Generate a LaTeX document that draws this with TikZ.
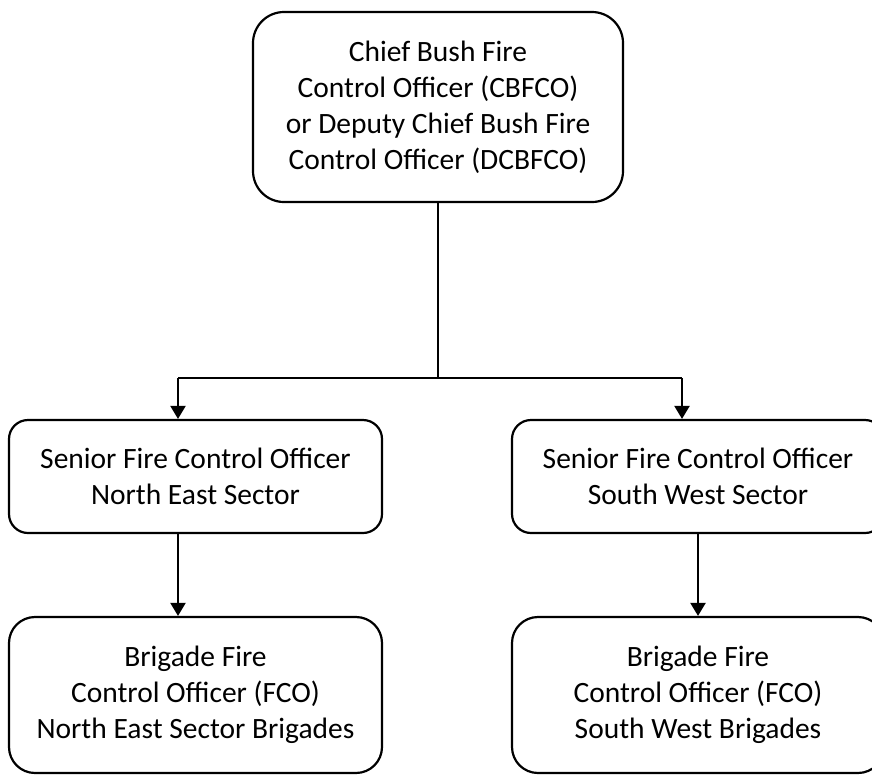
\documentclass[tikz,border=0pt]{standalone}
\usepackage{fontspec}
\setmainfont{Carlito}
\usetikzlibrary{arrows.meta}
\tikzset{
  orgbox/.style  = {draw,line width=2.2pt,align=center,inner sep=0pt,
                    font=\fontsize{29.5}{36}\selectfont},
  linkarr/.style = {-{Triangle[length=13pt,width=15pt]},line width=2.2pt},
  linkline/.style = {line width=2.2pt}
}
\begin{document}
\begin{tikzpicture}[x=1pt,y=-1pt]
  \path[use as bounding box] (0,0) rectangle (872,774);
  \clip (0,0) rectangle (872,774);
  % boxes
  \node[orgbox,minimum width=370pt,minimum height=190pt,rounded corners=31pt] (cbfco) at (438,107)
    {Chief Bush Fire\\Control Officer (CBFCO)\\or Deputy Chief Bush Fire\\Control Officer (DCBFCO)};
  \node[orgbox,minimum width=373pt,minimum height=113pt,rounded corners=19pt] (nesfco) at (195.5,476.5)
    {Senior Fire Control Officer\\North East Sector};
  \node[orgbox,minimum width=372pt,minimum height=113pt,rounded corners=19pt] (swsfco) at (698,476.5)
    {Senior Fire Control Officer\\South West Sector};
  \node[orgbox,minimum width=373pt,minimum height=156pt,rounded corners=26pt] (nefco) at (195.5,695)
    {Brigade Fire\\Control Officer (FCO)\\North East Sector Brigades};
  \node[orgbox,minimum width=372pt,minimum height=156pt,rounded corners=26pt] (swfco) at (698,695)
    {Brigade Fire\\Control Officer (FCO)\\South West Brigades};
  % connectors
  \coordinate (split) at (438,378);
  \coordinate (lj) at (178,378);
  \coordinate (rj) at (682,378);
  \draw[linkline] (cbfco.south) -- (split);
  \draw[linkline] (lj) -- (rj);
  \draw[linkarr] (lj) -- (lj |- nesfco.north);
  \draw[linkarr] (rj) -- (rj |- swsfco.north);
  \draw[linkarr] (lj |- nesfco.south) -- (lj |- nefco.north);
  \draw[linkarr] (swsfco.south) -- (swfco.north);
\end{tikzpicture}
\end{document}
